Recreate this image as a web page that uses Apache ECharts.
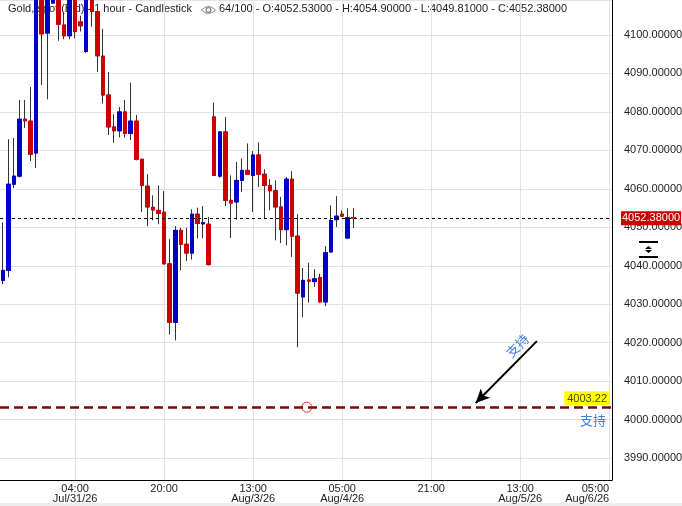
<!DOCTYPE html>
<html><head><meta charset="utf-8">
<script src="https://cdn.jsdelivr.net/npm/echarts@6/dist/echarts.min.js"></script>
<style>html,body{margin:0;padding:0;background:#fff}#c{width:682px;height:506px}</style>
</head><body><div id="c"></div>
<script>
// hourly categories (UTC+8), weekend gap between 08/01 04 and 08/03 06
const categories = [
 '07/30 15','07/30 16','07/30 17','07/30 18','07/30 19','07/30 20','07/30 21','07/30 22','07/30 23',
 '07/31 00','07/31 01','07/31 02','07/31 03','07/31 04','07/31 05','07/31 06','07/31 07','07/31 08','07/31 09','07/31 10','07/31 11',
 '07/31 12','07/31 13','07/31 14','07/31 15','07/31 16','07/31 17','07/31 18','07/31 19','07/31 20','07/31 21','07/31 22','07/31 23',
 '08/01 00','08/01 01','08/01 02','08/01 03','08/01 04',
 '08/03 06','08/03 07','08/03 08','08/03 09','08/03 10','08/03 11','08/03 12','08/03 13','08/03 14','08/03 15','08/03 16','08/03 17',
 '08/03 18','08/03 19','08/03 20','08/03 21','08/03 22','08/03 23',
 '08/04 00','08/04 01','08/04 02','08/04 03','08/04 04','08/04 05','08/04 06','08/04 07','08/04 08','08/04 09','08/04 10','08/04 11',
 '08/04 12','08/04 13','08/04 14','08/04 15','08/04 16','08/04 17','08/04 18','08/04 19','08/04 20','08/04 21','08/04 22','08/04 23',
 '08/05 00','08/05 01','08/05 02','08/05 03','08/05 04','08/05 05','08/05 06','08/05 07','08/05 08','08/05 09','08/05 10','08/05 11',
 '08/05 12','08/05 13','08/05 14','08/05 15','08/05 16','08/05 17','08/05 18','08/05 19','08/05 20','08/05 21','08/05 22','08/05 23',
 '08/06 00','08/06 01','08/06 02','08/06 03','08/06 04','08/06 05'
];
const tickKeys  = ['07/31 04','07/31 20','08/03 13','08/04 05','08/04 21','08/05 13','08/06 05'];
const tickTexts = ['04:00\nJul/31/26','20:00','13:00\nAug/3/26','05:00\nAug/4/26','21:00','13:00\nAug/5/26','05:00\nAug/6/26'];

const opens  = [4036.2,4038.8,4061.2,4063.3,4078.1,4077.6,4069.3,4112.5,4100.5,4108.3,4112.0,4102.6,4099.8,4111.0,4103.4,4095.7,
  4111.0,4106.1,4094.5,4084.4,4076.1,4075.1,4080.0,4074.4,4077.6,4067.7,4060.7,4055.2,4054.4,4053.9,4040.5,4025.3,
  4049.2,4045.6,4043.3,4053.4,4050.9,4050.8,4078.7,4063.3,4074.8,4057.0,4056.6,4062.2,4064.8,4063.5,4068.8,4063.8,
  4060.9,4059.5,4055.3,4049.4,4062.5,4047.7,4031.9,4036.3,4035.9,4036.9,4030.6,4043.6,4052.0,4053.4,4047.2,4052.53];
const closes = [4038.8,4061.2,4063.3,4078.1,4077.7,4069.0,4112.0,4100.3,4113.0,4112.0,4102.8,4099.8,4111.5,4100.9,4102.4,4111.0,
  4106.1,4094.6,4084.4,4076.1,4075.1,4080.0,4074.4,4077.6,4067.7,4060.9,4055.3,4054.5,4053.6,4040.5,4025.3,4049.2,
  4045.6,4043.3,4053.4,4051.0,4051.2,4040.3,4063.5,4074.8,4057.0,4056.3,4062.2,4064.8,4063.8,4068.8,4063.8,4060.9,
  4059.5,4055.3,4049.4,4062.5,4047.7,4032.9,4036.2,4036.0,4036.6,4030.6,4043.4,4051.8,4052.9,4052.9,4052.5,4052.38];
const lows   = [4035.2,4037.0,4060.2,4063.0,4075.8,4067.2,4065.4,4087.0,4083.3,4108.2,4098.5,4098.9,4098.9,4099.1,4100.9,4095.3,
  4102.2,4090.4,4082.2,4074.0,4072.0,4073.4,4073.3,4072.7,4067.4,4054.0,4050.3,4051.8,4050.8,4040.4,4022.1,4020.6,
  4038.8,4041.2,4041.6,4047.1,4047.1,4040.1,4063.3,4062.9,4055.5,4047.2,4052.0,4059.2,4063.8,4054.0,4060.5,4052.3,
  4054.4,4046.6,4045.9,4045.3,4042.3,4018.8,4026.6,4030.4,4034.5,4030.4,4029.5,4043.5,4050.1,4052.8,4047.2,4049.81];
const highs  = [4051.3,4072.9,4073.2,4083.1,4083.1,4086.5,4115.0,4114.0,4116.0,4114.0,4113.5,4106.0,4113.0,4112.0,4105.0,4112.5,
  4112.0,4108.0,4101.6,4090.4,4079.4,4081.3,4083.1,4087.6,4079.2,4067.8,4063.8,4058.3,4060.9,4059.4,4046.9,4050.3,
  4049.9,4049.9,4054.7,4055.1,4055.5,4052.7,4082.4,4075.0,4078.7,4063.5,4067.0,4067.9,4071.8,4069.8,4072.1,4065.1,
  4062.5,4062.2,4057.9,4063.1,4064.6,4053.4,4039.4,4040.8,4039.1,4037.9,4045.1,4055.7,4058.1,4054.4,4054.9,4054.90];

const lastPrice = 4052.38;
const supportPrice = 4003.22;
const supportText = '支持';
const supportAnchor = '08/03 23';
const arrowFrom = ['08/05 16', 4020.4];
const arrowTo   = ['08/05 05', 4004.3];
const titleText = 'Gold, spot (Bid) - 1 hour - Candlestick';
const infoText = '64/100 - O:4052.53000 - H:4054.90000 - L:4049.81000 - C:4052.38000';

const UP = '#0000cc', DOWN = '#cc0000', WICK = '#333333', GRID = '#e2e2e2', BLUE_TXT = '#3f7fe0';
const FONT = 'Liberation Sans, Arial, sans-serif';

const full = opens.map((o, i) => [o, closes[i], lows[i], highs[i]]);
const bodies = opens.map((o, i) => [o, closes[i], Math.min(o, closes[i]), Math.max(o, closes[i])]);
const isTick = (idx, val) => tickKeys.indexOf(val) >= 0;

const chart = echarts.init(document.getElementById('c'), null, {renderer: 'canvas'});
chart.setOption({
  animation: false,
  backgroundColor: '#fff',
  textStyle: {fontFamily: FONT},
  grid: {left: 0, right: 70, top: 0, bottom: 26, containLabel: false, outerBoundsMode: 'none'},
  xAxis: {
    type: 'category', data: categories, boundaryGap: true,
    axisLine: {lineStyle: {color: '#000', width: 1}},
    axisTick: {show: false},
    axisLabel: {
      interval: isTick, color: '#222', fontSize: 11, lineHeight: 10, margin: 4, fontFamily: FONT,
      alignMaxLabel: 'right',
      formatter: v => tickTexts[tickKeys.indexOf(v)]
    },
    splitLine: {show: true, interval: isTick, alignWithLabel: true, lineStyle: {color: GRID, width: 1}}
  },
  yAxis: {
    type: 'value', position: 'right', min: 3984.3, max: 4109.1,
    splitNumber: 12, minInterval: 10, maxInterval: 10,
    axisLine: {show: true, lineStyle: {color: '#000', width: 1}},
    axisTick: {show: false},
    splitLine: {show: true, lineStyle: {color: GRID, width: 1}},
    axisLabel: {
      margin: 12, color: '#222', fontSize: 11, fontFamily: FONT,
      formatter: v => (Math.abs(v % 10) < 1e-6 ? v.toFixed(5) : '')
    }
  },
  graphic: [
    {type: 'text', left: 8, top: 3, z: 0, style: {text: titleText, font: '11px ' + FONT, fill: '#222'}},
    {type: 'group', left: 199, top: 4, z: 0, children: [
      {type: 'bezierCurve', shape: {x1: 0, y1: 5, x2: 14, y2: 5, cpx1: 7, cpy1: -2}, style: {stroke: '#888', lineWidth: 1, fill: null}},
      {type: 'bezierCurve', shape: {x1: 0, y1: 5, x2: 14, y2: 5, cpx1: 7, cpy1: 12}, style: {stroke: '#888', lineWidth: 1, fill: null}},
      {type: 'ring', shape: {cx: 7, cy: 5, r: 3, r0: 1.8}, style: {fill: '#888'}}
    ]},
    {type: 'text', left: 219, top: 3, z: 0, style: {text: infoText, font: '11px ' + FONT, fill: '#222'}},
    {type: 'group', left: 639, top: 241, z: 10, children: [
      {type: 'rect', shape: {x: 0, y: 0, width: 19, height: 2}, style: {fill: '#000'}},
      {type: 'polygon', shape: {points: [[9.5, 5], [6, 8], [13, 8]]}, style: {fill: '#000'}},
      {type: 'polygon', shape: {points: [[6, 9], [13, 9], [9.5, 12]]}, style: {fill: '#000'}},
      {type: 'rect', shape: {x: 0, y: 15, width: 19, height: 2}, style: {fill: '#000'}}
    ]},
    {type: 'rect', left: 0, top: 503, z: 0, shape: {width: 682, height: 3}, style: {fill: '#ededed'}}
  ],
  series: [
    {
      name: 'wick', type: 'candlestick', data: full, barWidth: 4, z: 2,
      itemStyle: {color: UP, color0: DOWN, borderColor: WICK, borderColor0: WICK, borderWidth: 1}
    },
    {
      name: 'body', type: 'candlestick', data: bodies, barWidth: 4, z: 3,
      itemStyle: {color: UP, color0: DOWN, borderColor: UP, borderColor0: DOWN, borderWidth: 1}
    },
    {
      name: 'marks', type: 'scatter', z: 10, data: [[supportAnchor, supportPrice]],
      symbol: 'circle', symbolSize: 10, symbolOffset: [-2, 0],
      itemStyle: {color: 'rgba(0,0,0,0)', borderColor: '#dd0000', borderWidth: 1},
      markLine: {
        silent: true, symbol: 'none', animation: false,
        data: [
          {yAxis: lastPrice, lineStyle: {color: '#000', type: [3, 3], width: 1},
           label: {show: true, position: 'end', formatter: lastPrice.toFixed(5), backgroundColor: '#cc0000',
                   color: '#fff', fontSize: 11, fontFamily: FONT, padding: [2, 1, 1, 1], distance: 9}},
          {yAxis: supportPrice, lineStyle: {color: '#7a0a0a', type: [9, 5], width: 2.5},
           label: {show: true, position: 'insideEndTop', formatter: supportPrice.toFixed(2), backgroundColor: '#ffff00',
                   color: '#4a4a00', fontSize: 11, fontFamily: FONT, padding: [2, 3, 1, 3], distance: 2}},
          {yAxis: supportPrice, lineStyle: {color: 'rgba(0,0,0,0)', width: 1, type: 'solid'},
           label: {show: true, position: 'insideEndBottom', formatter: supportText, color: BLUE_TXT,
                   fontSize: 13, fontFamily: 'Noto Sans CJK SC', distance: 6}},
          [
            {coord: arrowFrom, symbol: 'none'},
            {coord: arrowTo, symbol: 'arrow', symbolSize: [10, 14],
             lineStyle: {color: '#000', width: 2, type: 'solid'},
             label: {show: true, position: 'insideStartTop', formatter: supportText, color: BLUE_TXT,
                     fontSize: 13, fontFamily: 'Noto Sans CJK SC', distance: 4}}
          ]
        ]
      }
    }
  ]
});
</script></body></html>
